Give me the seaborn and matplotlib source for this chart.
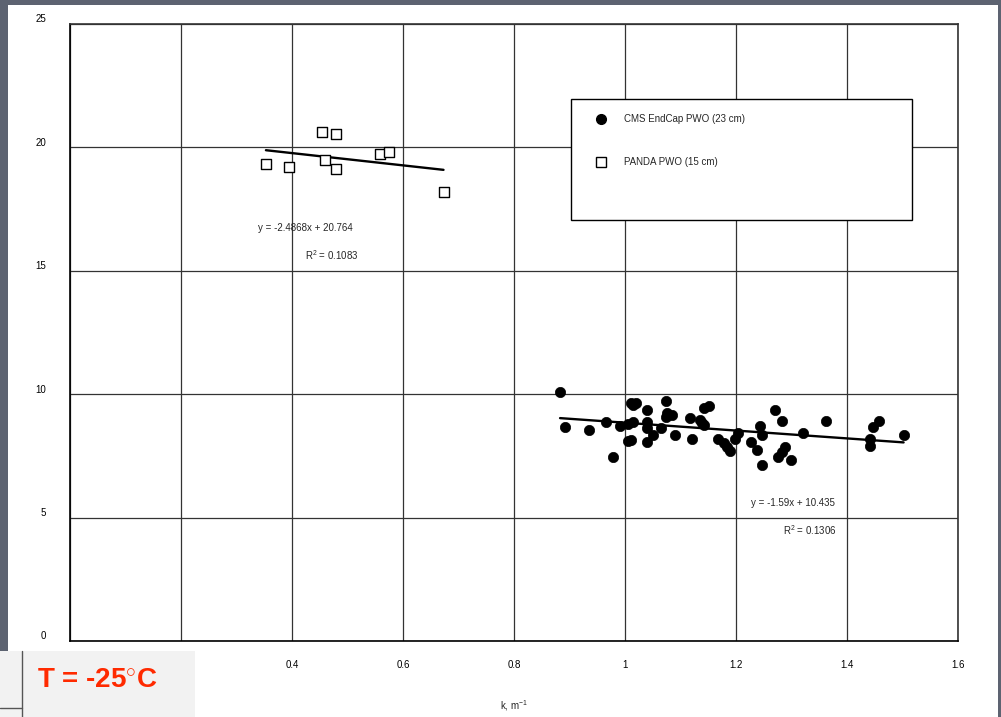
import matplotlib
matplotlib.use("Agg")
import matplotlib.pyplot as plt
import matplotlib.transforms as mtransforms
from matplotlib.patches import Rectangle
from matplotlib.lines import Line2D
import numpy as np
import pandas as pd
import seaborn as sns

# ---- data ----
cms_x = [0.883, 0.892, 0.935, 0.966, 0.979, 0.991, 1.005, 1.010, 1.010, 1.019,
         1.015, 1.005, 1.015, 1.039, 1.039, 1.039, 1.039, 1.050, 1.064, 1.073,
         1.076, 1.085, 1.073, 1.090, 1.117, 1.121, 1.136, 1.139, 1.142, 1.142,
         1.151, 1.168, 1.178, 1.184, 1.189, 1.198, 1.204, 1.227, 1.238, 1.243,
         1.247, 1.247, 1.270, 1.283, 1.276, 1.282, 1.288, 1.299, 1.321, 1.363,
         1.441, 1.441, 1.446, 1.457, 1.502]
cms_y = [10.08, 8.66, 8.55, 8.87, 7.44, 8.71, 8.12, 8.14, 9.63, 9.66,
         9.56, 8.79, 8.89, 9.36, 8.89, 8.62, 8.08, 8.35, 8.62, 9.72,
         9.22, 9.16, 9.09, 8.35, 9.02, 8.17, 8.95, 8.82, 8.75, 9.43,
         9.52, 8.17, 8.01, 7.85, 7.70, 8.17, 8.41, 8.05, 7.74, 8.71,
         8.35, 7.13, 9.36, 8.91, 7.47, 7.67, 7.87, 7.33, 8.42, 8.93,
         8.17, 7.90, 8.68, 8.93, 8.35]
panda_x = [0.353, 0.394, 0.4545, 0.480, 0.459, 0.480, 0.559, 0.575, 0.673]
panda_y = [19.32, 19.19, 20.62, 20.53, 19.49, 19.11, 19.73, 19.83, 18.19]

cms_fit = (-1.59, 10.435)
panda_fit = (-2.4868, 20.764)
cms_label = "CMS EndCap PWO (23 cm)"
panda_label = "PANDA PWO (15 cm)"
cms_eq = "y = -1.59x + 10.435"
cms_r2 = "R$^{2}$ = 0.1306"
panda_eq = "y = -2.4868x + 20.764"
panda_r2 = "R$^{2}$ = 0.1083"
x_ticks = [0, 0.2, 0.4, 0.6, 0.8, 1.0, 1.2, 1.4, 1.6]
# the labels at 0 and 0.2 are hidden under the temperature box in the original
x_tick_labels = ["", "", "0.4", "0.6", "0.8", "1", "1.2", "1.4", "1.6"]
y_ticks = [0, 5, 10, 15, 20, 25]
x_label = "k, m$^{-1}$"
temp_text = "T = -25$^{\\circ}$C"

# ---- figure ----
sns.set_theme(style="white")
plt.rcParams["font.family"] = ["Liberation Sans", "DejaVu Sans"]
plt.rcParams["mathtext.fontset"] = "custom"
plt.rcParams["mathtext.rm"] = "Liberation Sans"
plt.rcParams["mathtext.it"] = "Liberation Sans"

fig = plt.figure(figsize=(10.01, 7.17), dpi=100)
fig.patch.set_facecolor("#5d6371")
fig.add_artist(Rectangle((8 / 1001, 0), 990 / 1001, 712 / 717, transform=fig.transFigure,
                         facecolor="white", edgecolor="none", zorder=0))

ax = fig.add_axes([70 / 1001, 1 - 641 / 717, 888 / 1001, 617 / 717])
ax.set_facecolor("white")

cms_df = pd.DataFrame({"k": cms_x, "LY": cms_y})
panda_df = pd.DataFrame({"k": panda_x, "LY": panda_y})

sns.scatterplot(data=cms_df, x="k", y="LY", ax=ax, marker="o", s=55,
                color="black", edgecolor="black", linewidth=0.5, zorder=4)
sns.scatterplot(data=panda_df, x="k", y="LY", ax=ax, marker="s", s=50,
                facecolor="white", edgecolor="black", linewidth=1.0, zorder=4)

# trend lines
for xs, (m, b) in [(cms_x, cms_fit), (panda_x, panda_fit)]:
    xx = np.array([min(xs), max(xs)])
    ax.plot(xx, m * xx + b, color="black", lw=1.7, zorder=3)

ax.set_xlim(0, 1.6)
ax.set_ylim(0, 25)
ax.set_xticks(x_ticks)
ax.set_xticklabels(x_tick_labels)
ax.set_yticks(y_ticks)
ax.grid(True, color="#333333", lw=0.9, zorder=1)
ax.set_axisbelow(True)
ax.tick_params(axis="both", direction="out", length=5, width=0.8, color="#333333",
               labelsize=7, colors="black")
ax.tick_params(axis="x", pad=9)
ax.tick_params(axis="y", pad=12)
raise_lbl = mtransforms.ScaledTranslation(0, 4 / 72, fig.dpi_scale_trans)
for lbl in ax.get_yticklabels():
    lbl.set_transform(lbl.get_transform() + raise_lbl)
for s in ["left", "bottom"]:
    ax.spines[s].set_color("black")
    ax.spines[s].set_linewidth(1.2)
for s in ["top", "right"]:
    ax.spines[s].set_color("#333333")
    ax.spines[s].set_linewidth(1.2)
ax.set_xlabel(x_label, fontsize=7, labelpad=20)
ax.set_ylabel("")

# equation texts
ax.text(0.339, 16.73, panda_eq, fontsize=7, va="center", ha="left", zorder=5)
ax.text(0.424, 15.64, panda_r2, fontsize=7, va="center", ha="left", zorder=5)
ax.text(1.2266, 5.59, cms_eq, fontsize=7, va="center", ha="left", zorder=5)
ax.text(1.284, 4.50, cms_r2, fontsize=7, va="center", ha="left", zorder=5)

# legend box
ax.add_patch(Rectangle(((571 - 70) / 888, (641 - 220) / 617), 341 / 888, 121 / 617,
                       transform=ax.transAxes, facecolor="white", edgecolor="black",
                       lw=1.0, zorder=6))
handles = [Line2D([], [], ls="", marker="o", ms=7, color="black", label=cms_label),
           Line2D([], [], ls="", marker="s", ms=7, mfc="white", mec="black",
                  mew=1.0, label=panda_label)]
leg = ax.legend(handles=handles, loc="upper left",
                bbox_to_anchor=((591 - 70) / 888, (641 - 114) / 617),
                frameon=False, fontsize=7, labelspacing=3.4, handletextpad=1.4,
                borderaxespad=0, borderpad=0)
leg.set_zorder(7)

# temperature box (bottom-left overlay)
fig.add_artist(Rectangle((0, 0), 195 / 1001, 66 / 717, transform=fig.transFigure,
                         facecolor="#f2f2f2", edgecolor="none", zorder=10))
fig.add_artist(Line2D([22 / 1001, 22 / 1001], [0, 66 / 717], transform=fig.transFigure,
                      color="#555555", lw=1.0, zorder=11))
fig.add_artist(Line2D([0, 22 / 1001], [9 / 717, 9 / 717], transform=fig.transFigure,
                      color="#555555", lw=1.0, zorder=11))
fig.text(37 / 1001, 1 - 681 / 717, temp_text, color="#ff2a00", fontsize=20,
         fontweight="bold", ha="left", va="center", zorder=12)

fig.savefig("out.png", dpi=100, facecolor=fig.get_facecolor())
